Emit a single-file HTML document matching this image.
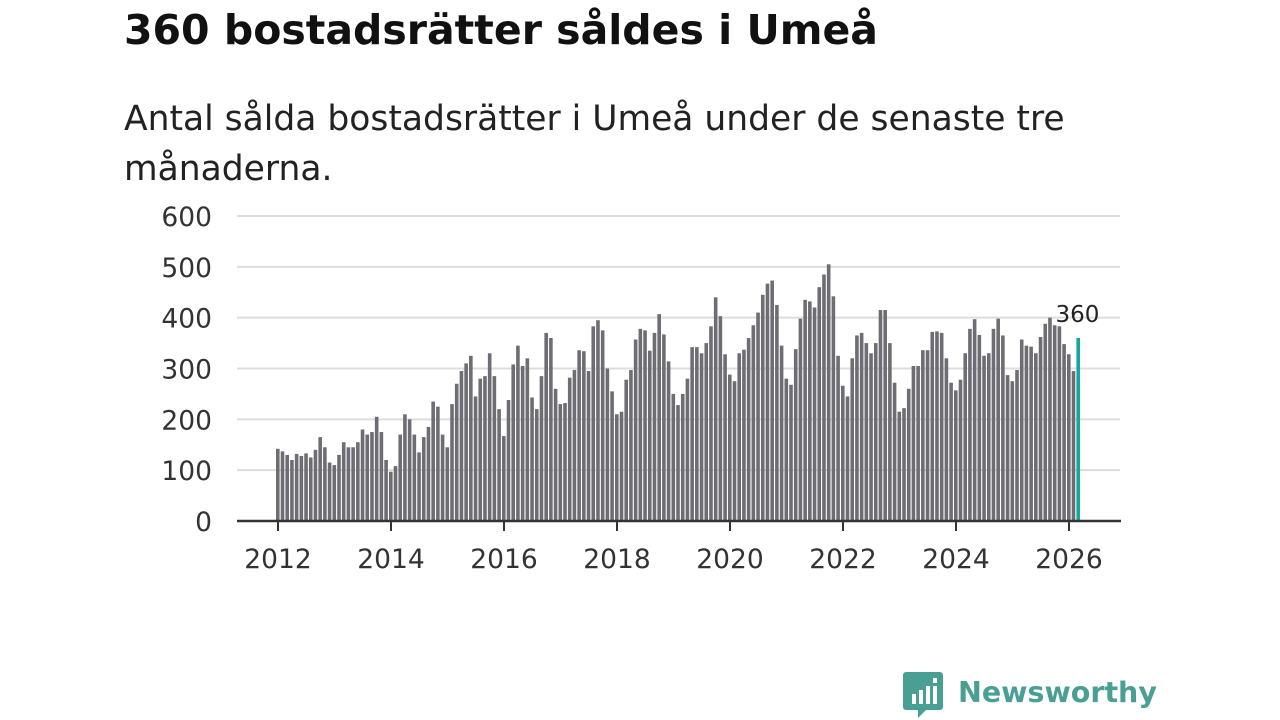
<!DOCTYPE html>
<html><head><meta charset="utf-8"><style>
body{margin:0;background:#fff;font-family:"DejaVu Sans","Liberation Sans",sans-serif;}
#wrap{position:relative;width:1280px;height:720px;overflow:hidden}
h1{position:absolute;left:124px;top:6px;margin:0;font-size:41px;font-weight:bold;color:#111;white-space:nowrap}
p{position:absolute;left:124px;top:94px;margin:0;font-size:34.5px;line-height:50px;color:#222;width:1010px}
svg{position:absolute;left:0;top:0}
</style></head><body><div id="wrap">
<h1>360 bostadsrätter såldes i Umeå</h1>
<p>Antal sålda bostadsrätter i Umeå under de senaste tre månaderna.</p>
<svg id="c" width="1280" height="720"></svg>
</div>
<script>
const years=[2012,2013,2014,2015,2016,2017,2018,2019,2020,2021,2022,2023,2024,2025,2026];
const values=[
142,137,130,120,132,128,133,125,140,165,145,115,
110,130,155,145,145,155,180,170,175,205,175,120,
97,108,170,210,200,170,135,165,185,235,225,170,
145,230,270,295,310,325,245,280,285,330,285,220,
167,238,308,345,305,320,243,220,285,370,360,260,
230,232,282,297,336,334,295,383,395,375,300,255,
210,215,278,297,357,378,375,335,370,407,367,314,
250,228,250,280,342,342,330,350,383,440,403,328,
288,275,330,337,360,385,410,445,467,473,425,345,
280,268,338,398,435,432,420,460,485,505,442,325,
266,245,320,365,370,350,330,350,415,415,350,272,
215,222,260,305,305,336,336,372,373,370,320,272,
257,278,330,378,397,366,325,330,378,398,365,287,
275,297,357,345,343,330,362,388,400,385,383,348,
328,295,360];
const yTicks=[0,100,200,300,400,500,600];
const xTickLabels=["2012","2014","2016","2018","2020","2022","2024","2026"];
const NS="http://www.w3.org/2000/svg",svg=document.getElementById('c');
const y=v=>521-v*(305/600);
const x=i=>278+i*(791/168);
function mk(t,a,txt){const e=document.createElementNS(NS,t);for(const k in a)e.setAttribute(k,a[k]);if(txt!=null)e.textContent=txt;svg.appendChild(e);return e;}
yTicks.forEach(v=>{
 if(v>0){const g=mk('line',{x1:237,x2:1120,y1:y(v),y2:y(v),stroke:'#ddd','stroke-width':2});
 
 }
 const t=mk('text',{x:212,y:y(v)+10,'text-anchor':'end','font-size':26.5,fill:'#333'},v);
 
 
});
values.forEach((v,i)=>{
 const last=i===values.length-1;
 const r=mk('rect',{x:x(i)-2,y:y(v),width:3.6,height:521-y(v),fill:last?'#13a89e':'#6e6d73'});
 
 
});
const li=values.length-1;
const lbl=mk('text',{x:x(li)-1,y:y(values[li])-16,'text-anchor':'middle','font-size':23,fill:'#222'},values[li]);


const ax=mk('line',{x1:237,x2:1121,y1:521,y2:521,stroke:'#333','stroke-width':2.5});


xTickLabels.forEach(l=>{
 const xi=x((+l-2012)*12);
 const tk=mk('line',{x1:xi,x2:xi,y1:521,y2:531,stroke:'#333','stroke-width':2});
 
 
 const t=mk('text',{x:xi,y:568,'text-anchor':'middle','font-size':26.5,fill:'#333'},l);
 
 
});
const ic=mk('path',{d:'M906 672 h34 a3 3 0 0 1 3 3 v32 a3 3 0 0 1 -3 3 h-14 l-8 8 v-8 h-12 a3 3 0 0 1 -3 -3 v-32 a3 3 0 0 1 3 -3z',fill:'#4a9f95'});


[[912,694,4,10],[919,690,4,14],[926,686,4,18],[933,678,4,5],[933,686,4,18]].forEach(b=>{mk('rect',{x:b[0],y:b[1],width:b[2],height:b[3],fill:'#fff'});});
const lt=mk('text',{x:958,y:702,'font-size':28.5,'font-weight':'bold',fill:'#4a9f95'},'Newsworthy');


</script></body></html>
